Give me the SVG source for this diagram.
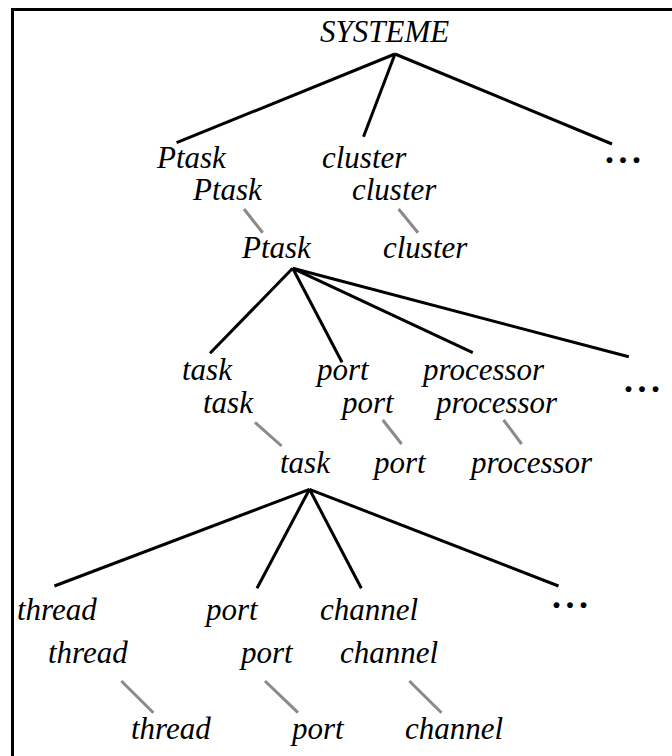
<svg xmlns="http://www.w3.org/2000/svg" width="672" height="756" viewBox="0 0 672 756">
<style>
.t{font-family:"Liberation Serif","Times New Roman",serif;font-style:italic;font-size:31px;fill:#000}
.d{font-family:"Liberation Serif","Times New Roman",serif;font-size:36px;font-weight:bold;fill:#000;letter-spacing:4.5px}
.e{stroke:#000;stroke-width:3;fill:none;stroke-linecap:butt}
.g{stroke:#8a8a8a;stroke-width:3;fill:none}
</style>
<rect x="0" y="0" width="672" height="756" fill="#fff"/>
<path d="M12.5 760 V9.5 H680" fill="none" stroke="#000" stroke-width="3"/>
<g id="connectors">
<line class="e" x1="395" y1="54" x2="176.6" y2="142.7"/>
<line class="e" x1="395" y1="54" x2="363.5" y2="136.7"/>
<line class="e" x1="395" y1="54" x2="612" y2="144"/>
<line class="g" x1="244" y1="209" x2="262.7" y2="232.7"/>
<line class="g" x1="398.6" y1="209" x2="418" y2="232.7"/>
<line class="e" x1="292.7" y1="268.3" x2="210" y2="353.3"/>
<line class="e" x1="292.7" y1="268.3" x2="342" y2="362.3"/>
<line class="e" x1="292.7" y1="268.3" x2="472.8" y2="352.7"/>
<line class="e" x1="292.7" y1="268.3" x2="628.8" y2="356.7"/>
<line class="g" x1="255" y1="422.3" x2="281.6" y2="446"/>
<line class="g" x1="382.7" y1="420" x2="401.6" y2="444"/>
<line class="g" x1="503.6" y1="420" x2="521.6" y2="444"/>
<line class="e" x1="309.5" y1="489.3" x2="54.4" y2="586"/>
<line class="e" x1="309.5" y1="489.3" x2="257" y2="588.3"/>
<line class="e" x1="309.5" y1="489.3" x2="361.3" y2="588.3"/>
<line class="e" x1="309.5" y1="489.3" x2="558.5" y2="586"/>
<line class="g" x1="121.3" y1="681" x2="153.4" y2="712.7"/>
<line class="g" x1="265" y1="681" x2="298" y2="712.7"/>
<line class="g" x1="409.3" y1="681" x2="441.5" y2="712.7"/>
</g>
<g id="systeme"><text class="t" x="320" y="42">SYSTEME</text></g>
<g id="ptask1"><text class="t" x="157" y="168">Ptask</text></g>
<g id="cluster1"><text class="t" x="322" y="168">cluster</text></g>
<g id="more1"><text class="d" x="605" y="163">...</text></g>
<g id="ptask2"><text class="t" x="193" y="200">Ptask</text></g>
<g id="cluster2"><text class="t" x="352" y="200">cluster</text></g>
<g id="ptask3"><text class="t" x="242" y="258">Ptask</text></g>
<g id="cluster3"><text class="t" x="383" y="258">cluster</text></g>
<g id="task1"><text class="t" x="182" y="380">task</text></g>
<g id="port1"><text class="t" x="317" y="380">port</text></g>
<g id="processor1"><text class="t" x="423" y="380">processor</text></g>
<g id="more2"><text class="d" x="624" y="392">...</text></g>
<g id="task2"><text class="t" x="203" y="413">task</text></g>
<g id="port2"><text class="t" x="342" y="413">port</text></g>
<g id="processor2"><text class="t" x="436" y="413">processor</text></g>
<g id="task3"><text class="t" x="280" y="473">task</text></g>
<g id="port3"><text class="t" x="374" y="473">port</text></g>
<g id="processor3"><text class="t" x="471" y="473">processor</text></g>
<g id="thread1"><text class="t" x="17" y="620">thread</text></g>
<g id="port4"><text class="t" x="206" y="620">port</text></g>
<g id="channel1"><text class="t" x="320" y="620">channel</text></g>
<g id="more3"><text class="d" x="552" y="608">...</text></g>
<g id="thread2"><text class="t" x="48" y="663">thread</text></g>
<g id="port5"><text class="t" x="241" y="663">port</text></g>
<g id="channel2"><text class="t" x="340" y="663">channel</text></g>
<g id="thread3"><text class="t" x="131" y="739">thread</text></g>
<g id="port6"><text class="t" x="292" y="739">port</text></g>
<g id="channel3"><text class="t" x="405" y="739">channel</text></g>
</svg>
